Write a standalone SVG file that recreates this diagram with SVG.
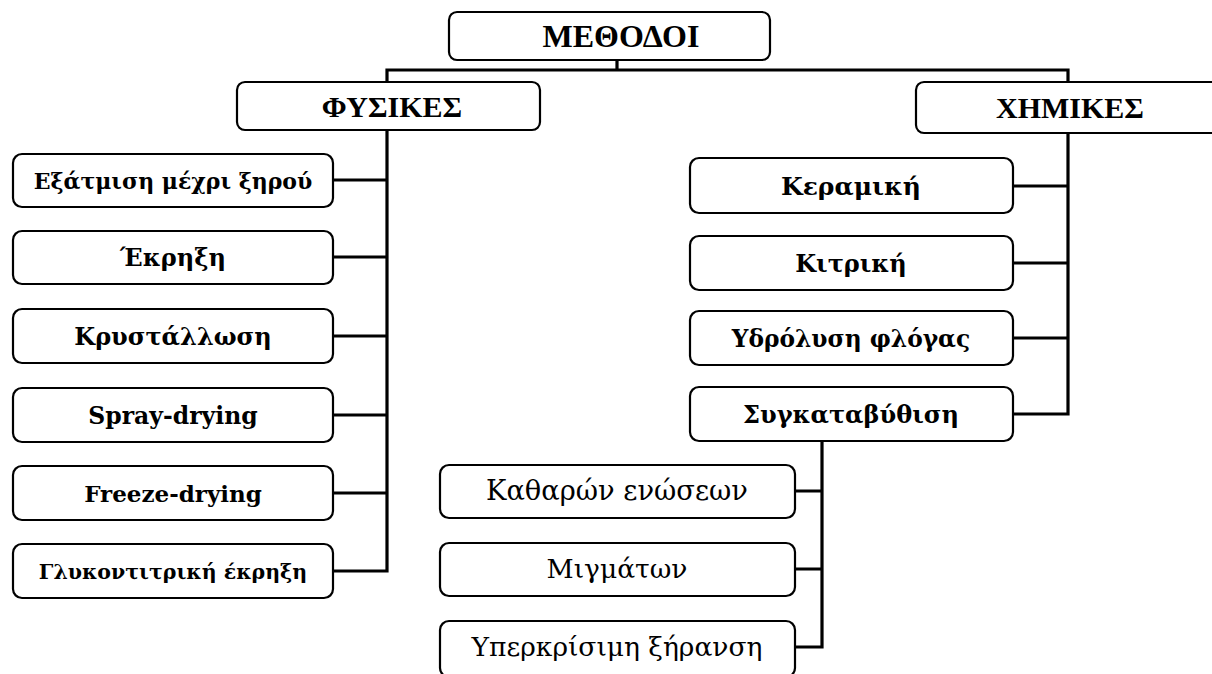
<svg xmlns="http://www.w3.org/2000/svg" width="1212" height="674" viewBox="0 0 1212 674">
<style>
.box{fill:#fff;stroke:#000;stroke-width:2.2}
.con{fill:none;stroke:#000;stroke-width:3.2;stroke-linecap:square}
.t{font-family:"DejaVu Serif","Liberation Serif",serif;font-weight:bold;font-size:24px;text-anchor:middle;fill:#000}
.h{font-family:"Liberation Serif","DejaVu Serif",serif;font-size:30px}
.r{font-weight:normal;font-size:26.5px}
</style>
<rect width="1212" height="674" fill="#fff"/>
<g id="connectors">
<path class="con" d="M617 60V70M387 82V70H1068V82"/>
<path class="con" d="M387 130V571M333 180H387M333 257H387M333 336H387M333 415H387M333 493H387M333 571H387"/>
<path class="con" d="M1068 133V414M1013 186H1068M1013 263H1068M1013 338H1068M1013 414H1068"/>
<path class="con" d="M822 440V647M795 491H822M795 569H822M795 647H822"/>
</g>
<g id="n-methodoi"><rect class="box" x="449" y="12" width="321" height="48" rx="8"/><text class="t h" x="621" y="47" style="font-size:32px">ΜΕΘΟΔΟΙ</text></g>
<g id="n-fysikes"><rect class="box" x="237" y="82" width="303" height="48" rx="8"/><text class="t h" x="392" y="117">ΦΥΣΙΚΕΣ</text></g>
<g id="n-ximikes"><rect class="box" x="916" y="82" width="310" height="51" rx="8"/><text class="t h" x="1070" y="118">ΧΗΜΙΚΕΣ</text></g>
<g id="n-exatmisi"><rect class="box" x="13" y="154" width="320" height="53" rx="9"/><text class="t" x="173" y="189" style="font-size:22px">Εξάτμιση μέχρι ξηρού</text></g>
<g id="n-ekrixi"><rect class="box" x="13" y="231" width="320" height="53" rx="9"/><text class="t" x="173" y="266">Έκρηξη</text></g>
<g id="n-krystallosi"><rect class="box" x="13" y="309" width="320" height="54" rx="9"/><text class="t" x="173" y="345">Κρυστάλλωση</text></g>
<g id="n-spray"><rect class="box" x="13" y="388" width="320" height="54" rx="9"/><text class="t" x="173" y="424" style="font-size:23.5px">Spray-drying</text></g>
<g id="n-freeze"><rect class="box" x="13" y="466" width="320" height="54" rx="9"/><text class="t" x="173" y="502" style="font-size:23px">Freeze-drying</text></g>
<g id="n-glykonitriki"><rect class="box" x="13" y="544" width="320" height="54" rx="9"/><text class="t" x="173" y="579" style="font-size:20.5px">Γλυκοντιτρική έκρηξη</text></g>
<g id="n-keramiki"><rect class="box" x="690" y="158" width="323" height="55" rx="9"/><text class="t" x="851" y="195" style="font-size:25px">Κεραμική</text></g>
<g id="n-kitriki"><rect class="box" x="690" y="236" width="323" height="54" rx="9"/><text class="t" x="851" y="272">Κιτρική</text></g>
<g id="n-ydrolysi"><rect class="box" x="690" y="311" width="323" height="54" rx="9"/><text class="t" x="851" y="347" style="font-size:23.3px">Υδρόλυση φλόγας</text></g>
<g id="n-sygkatavythisi"><rect class="box" x="690" y="387" width="323" height="54" rx="9"/><text class="t" x="851" y="423">Συγκαταβύθιση</text></g>
<g id="n-katharon"><rect class="box" x="440" y="465" width="355" height="53" rx="9"/><text class="t r" x="617" y="500" style="font-size:27.3px">Καθαρών ενώσεων</text></g>
<g id="n-migmaton"><rect class="box" x="440" y="543" width="355" height="53" rx="9"/><text class="t r" x="617" y="578">Μιγμάτων</text></g>
<g id="n-yperkrisimi"><rect class="box" x="440" y="621" width="355" height="56" rx="9"/><text class="t r" x="617" y="656">Υπερκρίσιμη ξήρανση</text></g>
</svg>
